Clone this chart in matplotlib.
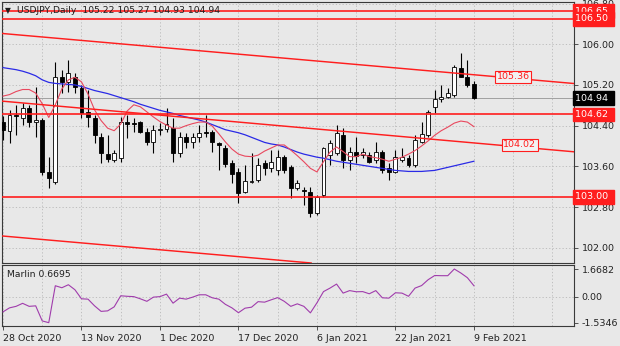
import numpy as np
import pandas as pd
import matplotlib
matplotlib.use("Agg")
import matplotlib.pyplot as plt
import matplotlib.transforms as mtransforms

# ---------------- data: USDJPY daily ----------------
opens = [104.48, 104.30, 104.61, 104.55, 104.75, 104.47, 104.51, 103.49, 103.29, 105.36,
         105.26, 105.36, 105.14, 104.67, 104.55, 104.18, 103.84, 103.73, 103.77, 104.48,
         104.46, 104.47, 104.28, 104.08, 104.31, 104.33, 104.35, 103.86, 104.18, 104.08,
         104.18, 104.27, 104.28, 104.06, 103.96, 103.67, 103.49, 103.10, 103.29, 103.33,
         103.67, 103.57, 103.53, 103.78, 103.59, 103.18, 103.13, 103.10, 102.68, 103.04,
         103.82, 103.86, 104.22, 103.73, 103.88, 103.82, 103.82, 103.73, 103.88, 103.57,
         103.49, 103.73, 103.77, 103.63, 104.08, 104.22, 104.77, 104.92, 104.96, 105.00,
         105.53, 105.36, 105.22]
highs = [104.58, 104.71, 104.81, 104.85, 104.81, 105.16, 104.55, 103.78, 105.65, 105.49,
         105.69, 105.43, 105.20, 105.10, 104.61, 104.26, 104.22, 103.92, 104.57, 104.61,
         104.55, 104.49, 104.35, 104.41, 104.45, 104.75, 104.55, 104.28, 104.26, 104.26,
         104.41, 104.61, 104.32, 104.08, 104.02, 103.73, 103.57, 103.63, 103.86, 103.77,
         103.73, 103.92, 103.92, 103.82, 103.63, 103.33, 103.20, 103.20, 103.04, 103.98,
         104.12, 104.41, 104.35, 103.98, 104.18, 103.96, 103.88, 104.08, 103.92, 103.67,
         103.92, 103.96, 103.82, 104.22, 104.47, 104.71, 105.10, 105.20, 105.14, 105.59,
         105.83, 105.69, 105.27]
lows = [104.12, 104.06, 104.22, 104.41, 104.37, 104.18, 103.43, 103.18, 103.25, 105.04,
        105.06, 105.04, 104.55, 104.37, 104.06, 103.67, 103.69, 103.69, 103.69, 104.16,
        104.28, 104.26, 104.02, 103.86, 104.22, 104.28, 103.69, 103.78, 103.96, 103.96,
        104.08, 104.18, 103.88, 103.53, 103.59, 103.27, 102.88, 103.08, 103.27, 103.29,
        103.43, 103.49, 103.43, 103.47, 102.98, 103.14, 102.84, 102.61, 102.65, 103.00,
        103.63, 103.82, 103.57, 103.53, 103.67, 103.77, 103.67, 103.67, 103.47, 103.33,
        103.47, 103.69, 103.59, 103.59, 104.06, 104.18, 104.65, 104.87, 104.94, 104.96,
        105.36, 105.16, 104.93]
closes = [104.32, 104.61, 104.59, 104.75, 104.47, 104.51, 103.49, 103.37, 105.36, 105.26,
          105.43, 105.16, 104.65, 104.57, 104.22, 103.86, 103.75, 103.86, 104.47, 104.44,
          104.44, 104.28, 104.08, 104.32, 104.33, 104.43, 103.86, 104.18, 104.08, 104.18,
          104.26, 104.25, 104.08, 104.02, 103.65, 103.45, 103.08, 103.31, 103.32, 103.63,
          103.57, 103.69, 103.78, 103.53, 103.18, 103.27, 103.11, 102.68, 103.00, 103.96,
          104.06, 104.26, 103.73, 103.88, 103.80, 103.88, 103.69, 103.88, 103.53, 103.49,
          103.78, 103.78, 103.63, 104.12, 104.24, 104.67, 104.92, 104.96, 105.04, 105.55,
          105.36, 105.20, 104.94]

ma_fast = [104.98, 105.01, 105.07, 105.11, 105.11, 105.04, 104.83, 104.56, 104.81, 105.12,
           105.30, 105.35, 105.26, 105.02, 104.71, 104.50, 104.35, 104.30, 104.43, 104.69,
           104.81, 104.77, 104.67, 104.57, 104.48, 104.41, 104.35, 104.35, 104.40, 104.44,
           104.47, 104.47, 104.39, 104.24, 104.08, 103.94, 103.84, 103.80, 103.79, 103.82,
           103.90, 103.96, 104.02, 104.02, 103.92, 103.81, 103.69, 103.56, 103.49, 103.69,
           103.88, 103.98, 103.89, 103.79, 103.79, 103.84, 103.79, 103.77, 103.74, 103.70,
           103.74, 103.78, 103.84, 103.91, 104.00, 104.10, 104.21, 104.30, 104.37, 104.45,
           104.49, 104.47, 104.38]
ma_slow = [105.54, 105.52, 105.50, 105.47, 105.43, 105.38, 105.30, 105.25, 105.23, 105.22,
           105.21, 105.20, 105.17, 105.13, 105.09, 105.06, 105.03, 104.99, 104.95, 104.91,
           104.87, 104.82, 104.78, 104.74, 104.70, 104.67, 104.64, 104.60, 104.57, 104.54,
           104.51, 104.47, 104.42, 104.37, 104.32, 104.29, 104.26, 104.22, 104.17, 104.12,
           104.07, 104.04, 104.02, 103.98, 103.93, 103.88, 103.84, 103.81, 103.78, 103.76,
           103.73, 103.70, 103.68, 103.66, 103.64, 103.62, 103.60, 103.58, 103.56, 103.54,
           103.52, 103.51, 103.50, 103.50, 103.50, 103.51, 103.52, 103.55, 103.58, 103.61,
           103.64, 103.67, 103.70]

marlin = [-0.89, -0.65, -0.56, -0.38, -0.56, -0.53, -1.43, -1.5346, 0.67, 0.55,
          0.73, 0.43, -0.11, -0.13, -0.53, -0.86, -0.83, -0.59, 0.07, 0.04,
          0.02, -0.11, -0.26, -0.01, 0.02, 0.17, -0.37, -0.07, -0.13, -0.01,
          0.13, 0.13, -0.05, -0.13, -0.44, -0.65, -0.94, -0.67, -0.61, -0.28,
          -0.31, -0.17, -0.04, -0.26, -0.56, -0.41, -0.56, -0.95, -0.35, 0.32,
          0.53, 0.77, 0.23, 0.38, 0.31, 0.32, 0.19, 0.38, -0.05, -0.07,
          0.25, 0.23, 0.04, 0.53, 0.68, 1.03, 1.28, 1.27, 1.27, 1.6682,
          1.43, 1.15, 0.6695]

levels = [106.65, 106.50, 104.62, 103.00]
# channel lines: (bar index, price) anchor pairs
channel_top = [(0, 106.21), (72, 105.40)]
channel_mid = [(0, 104.88), (72, 104.06)]
channel_bot = [(0, 102.23), (72, 101.42)]
channel_labels = [(78.0, 105.36, "105.36"), (79.0, 104.02, "104.02")]

price_ticks = [102.00, 102.80, 103.60, 104.40, 105.20, 106.00, 106.80]
marlin_ticks = [-1.5346, 0.0, 1.6682]
marlin_tick_labels = ["-1.5346", "0.00", "1.6682"]
last_price = 104.94
title = "USDJPY,Daily  105.22 105.27 104.93 104.94"

dates = pd.bdate_range("2020-10-28", "2021-02-09")
dates = dates[~dates.isin(pd.to_datetime(["2020-12-25", "2021-01-01"]))]

# ---------------- drawing ----------------
plt.rcParams["font.family"] = ["DejaVu Sans"]
plt.rcParams["font.size"] = 6.5

BG = "#e8e8e8"
RED = "#ff1e1e"
FRAME = "#3a3a3a"
GRID = "#b8b8b8"

W, H = 620, 346
fig = plt.figure(figsize=(W / 100, H / 100), dpi=100, facecolor=BG)


def px_axes(left, top, right, bottom):
    return fig.add_axes([left / W, 1 - bottom / H, (right - left) / W, (bottom - top) / H])


ax = px_axes(2, 2, 574, 263)
ax2 = px_axes(2, 265, 574, 326)

n = len(opens)
x = np.arange(n)
o = np.array(opens)
c = np.array(closes)
hi = np.array(highs)
lo = np.array(lows)

xmin, xmax = -0.15, 87.3
for a in (ax, ax2):
    a.set_facecolor(BG)
    a.set_xlim(xmin, xmax)
    for s in a.spines.values():
        s.set_color(FRAME)
        s.set_linewidth(0.8)
    # vertical dotted grid every 6 bars
    for gx in np.arange(0, xmax, 6):
        a.axvline(gx, color=GRID, lw=0.6, ls=(0, (1.5, 2.5)), zorder=0)

ax.set_ylim(101.70, 106.83)
for gy in price_ticks:
    ax.axhline(gy, color=GRID, lw=0.6, ls=(0, (1.5, 2.5)), zorder=0)

# last price line
ax.axhline(last_price, color="#a0a0a0", lw=0.7, zorder=1)

# candles
ax.vlines(x, lo, hi, color="black", lw=0.8, zorder=2)
up = c >= o
body_lo = np.minimum(o, c)
body_h = np.maximum(np.abs(c - o), 0.004)
ax.bar(x, body_h, bottom=body_lo, width=0.6,
       color=np.where(up, "white", "black"), edgecolor="black", linewidth=0.6, zorder=3)

# moving averages
ax.plot(x, ma_slow, color="#2a2ae6", lw=0.9, zorder=4)
ax.plot(x, ma_fast, color="#e8485e", lw=0.8, zorder=4)

# horizontal levels and channel
for lv in levels:
    ax.axhline(lv, color=RED, lw=1.2, zorder=5)
for (p0, p1) in (channel_top, channel_mid, channel_bot):
    ax.axline(p0, p1, color=RED, lw=1.05, zorder=5)
for bx, by, txt in channel_labels:
    ax.text(bx, by, txt, color=RED, ha="center", va="center", fontsize=6.8, zorder=6,
            bbox=dict(boxstyle="square,pad=0.18", facecolor="#f2f2f2", edgecolor=RED, lw=0.8))

# right price scale
ax.yaxis.tick_right()
ax.set_yticks(price_ticks)
ax.set_yticklabels([f"{t:.2f}" for t in price_ticks])
ax.tick_params(axis="y", length=3, width=0.6, colors=FRAME, labelcolor="#222222", pad=2.5,
               labelsize=6.8)
ax.tick_params(axis="x", bottom=False, labelbottom=False)

trans = mtransforms.blended_transform_factory(ax.transAxes, ax.transData)
for lv in levels:
    ax.text(1.0025, lv, f"{lv:.2f} ", transform=trans, color="white", ha="left", va="center",
            fontsize=6.8, zorder=7, clip_on=False,
            bbox=dict(boxstyle="square,pad=0.25", facecolor=RED, edgecolor=RED))
ax.text(1.0025, last_price, f"{last_price:.2f} ", transform=trans, color="white", ha="left",
        va="center", fontsize=6.8, zorder=7, clip_on=False,
        bbox=dict(boxstyle="square,pad=0.25", facecolor="black", edgecolor="black"))

ax.text(0.006, 0.969, "\u25bc", transform=ax.transAxes, fontsize=5.5, va="center", ha="left",
        color="#202020", zorder=8)
ax.text(0.027, 0.969, title, transform=ax.transAxes, fontsize=6.7, va="center", ha="left",
        color="#202020", zorder=8)

# Marlin oscillator
ax2.set_ylim(-1.733, 1.908)
ax2.axhline(0, color=GRID, lw=0.6, ls=(0, (1.5, 2.5)), zorder=0)
ax2.plot(x, marlin, color="#a03cac", lw=0.8, zorder=3)
ax2.yaxis.tick_right()
ax2.set_yticks(marlin_ticks)
ax2.set_yticklabels(marlin_tick_labels)
ax2.tick_params(axis="y", length=3, width=0.6, colors=FRAME, labelcolor="#222222", pad=2.5,
                labelsize=6.8)
ax2.text(0.008, 0.85, f"Marlin {marlin[-1]:.4f}", transform=ax2.transAxes, fontsize=6.7,
         va="center", ha="left", color="#202020")

tick_idx = list(range(0, n, 12))
ax2.set_xticks(tick_idx)
ax2.set_xticklabels([f"{dates[i].day} {dates[i]:%b %Y}" for i in tick_idx], ha="left")
ax2.tick_params(axis="x", length=3, width=0.6, colors=FRAME, labelcolor="#222222", pad=3,
                labelsize=6.8)

fig.savefig("out.png", dpi=100, facecolor=BG)
